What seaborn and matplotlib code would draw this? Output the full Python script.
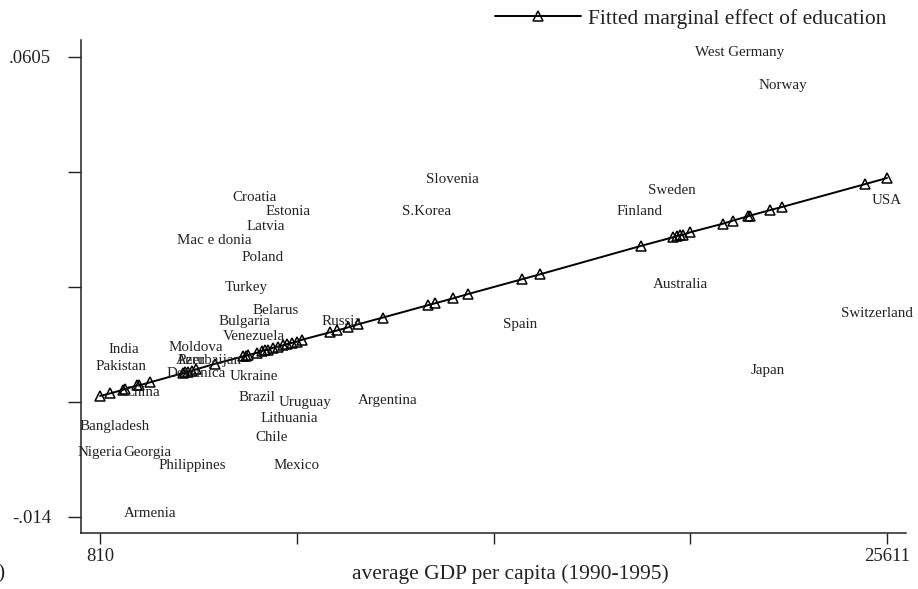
import matplotlib
matplotlib.use("Agg")
import matplotlib.pyplot as plt
import seaborn as sns
import pandas as pd

# ---- data ----
gdp = [810, 1125, 1535, 1598, 1976, 2039, 2386, 3426, 3489, 3583, 3709, 3835,
       4434, 5316, 5411, 5474, 5758, 5915, 6010, 6104, 6262, 6419, 6577, 6703,
       6861, 7018, 7176, 8058, 8279, 8625, 8940, 9728, 11146, 11367, 11934,
       12407, 14108, 14676, 17858, 18867, 18993, 19088, 19182, 19403, 20443,
       20758, 21230, 21293, 21924, 22302, 24918, 25611]
effect = [0.0056, 0.0060, 0.0066, 0.0067, 0.0073, 0.0073, 0.0078, 0.0093,
          0.0094, 0.0095, 0.0097, 0.0099, 0.0108, 0.0120, 0.0121, 0.0122,
          0.0126, 0.0129, 0.0130, 0.0131, 0.0134, 0.0136, 0.0138, 0.0140,
          0.0142, 0.0144, 0.0147, 0.0159, 0.0162, 0.0167, 0.0172, 0.0183,
          0.0203, 0.0206, 0.0214, 0.0221, 0.0245, 0.0253, 0.0299, 0.0313,
          0.0315, 0.0316, 0.0317, 0.0321, 0.0335, 0.0340, 0.0347, 0.0348,
          0.0357, 0.0362, 0.0399, 0.0409]

countries = ["West Germany", "Norway", "Slovenia", "Croatia", "Estonia", "S.Korea",
             "Sweden", "Finland", "USA", "Latvia", "Mac e donia", "Poland", "Turkey",
             "Australia", "Belarus", "Bulgaria", "Russia", "Spain", "Switzerland",
             "Venezuela", "India", "Moldova", "Pakistan", "Peru", "Azerbaijan",
             "Dominica", "Ukraine", "China", "Japan", "Brazil", "Uruguay",
             "Argentina", "Lithuania", "Bangladesh", "Chile", "Nigeria", "Georgia",
             "Philippines", "Mexico", "Armenia"]
country_gdp = [20978, 22333, 11903, 5694, 6734, 11115, 18835, 17827, 25611, 6041,
               4402, 5947, 5411, 19088, 6356, 5379, 8436, 14045, 25295, 5663,
               1566, 3835, 1472, 3678, 4245, 3835, 5663, 2134, 21861, 5758, 7270,
               9886, 6766, 1283, 6230, 810, 2291, 3709, 7018, 2386]
country_y = [0.0613, 0.0558, 0.0407, 0.0377, 0.0354, 0.0354, 0.0388, 0.0354,
             0.0372, 0.0330, 0.0307, 0.0281, 0.0232, 0.0237, 0.0194, 0.0176,
             0.0176, 0.0171, 0.0190, 0.0153, 0.0132, 0.0135, 0.0103, 0.0113,
             0.0113, 0.0092, 0.0088, 0.0061, 0.0098, 0.0053, 0.0045, 0.0048,
             0.0020, 0.0006, -0.0012, -0.0035, -0.0035, -0.0057, -0.0056, -0.0134]

x_ticks = [810, 7010.25, 13210.5, 19410.75, 25611]
x_ticklabels = ["810", "", "", "", "25611"]
y_ticks = [-0.014, 0.004625, 0.02325, 0.041875, 0.0605]
y_ticklabels = ["-.014", "", "", "", ".0605"]

legend_label = "Fitted marginal effect of education"
x_title = "average GDP per capita (1990-1995)"

# ---- styling ----
sns.set_style("white")
plt.rcParams["font.family"] = ["Liberation Serif", "DejaVu Serif"]
plt.rcParams["mathtext.fontset"] = "dejavuserif"

fig = plt.figure(figsize=(9.18, 5.89), dpi=100)
ax = fig.add_axes([81/918, 1-533/589, 825/918, 493/589])

df = pd.DataFrame({"gdp": gdp, "effect": effect})
sns.lineplot(data=df, x="gdp", y="effect", ax=ax, estimator=None, sort=True,
             color="black", linewidth=1.4, marker="^", markersize=7.5,
             markerfacecolor="none", markeredgecolor="black",
             markeredgewidth=1.1, label=legend_label)

for name, gx, gy in zip(countries, country_gdp, country_y):
    ax.text(gx, gy, name, ha="center", va="center", fontsize=10.8, color="#222222")

ax.set_xlim(211, 26210)
ax.set_ylim(-0.0166, 0.06325)

ax.set_xticks(x_ticks)
ax.set_xticklabels(x_ticklabels)
ax.set_yticks(y_ticks)
ax.set_yticklabels(y_ticklabels)

ax.tick_params(axis="x", direction="out", length=8, width=1, pad=3,
               labelsize=13.5, colors="#222222", bottom=True)
ax.tick_params(axis="y", direction="out", length=9.5, width=1, pad=12,
               labelsize=13.5, colors="#222222", left=True)
xl = ax.get_xticklabels()
xl[-1].set_horizontalalignment("center")
xl[-1].set_x(25611)

for s in ["top", "right"]:
    ax.spines[s].set_visible(False)
for s in ["left", "bottom"]:
    ax.spines[s].set_color("#222222")
    ax.spines[s].set_linewidth(1.1)

ax.set_ylabel("")
ax.set_xlabel(x_title, fontsize=15.5, color="#222222")
ax.xaxis.set_label_coords(0.521, -0.064)

leg = ax.legend(loc="center right", bbox_to_anchor=(886/918, 1-19/589),
                bbox_transform=fig.transFigure, frameon=False, fontsize=15.5,
                handlelength=4.0, handletextpad=0.3, borderpad=0,
                borderaxespad=0, numpoints=1)
for t in leg.get_texts():
    t.set_color("#222222")

fig.text(4/918, 1-574/589, ")", ha="right", va="center", fontsize=15.5,
         color="#222222")

fig.savefig("out.png", dpi=100)
